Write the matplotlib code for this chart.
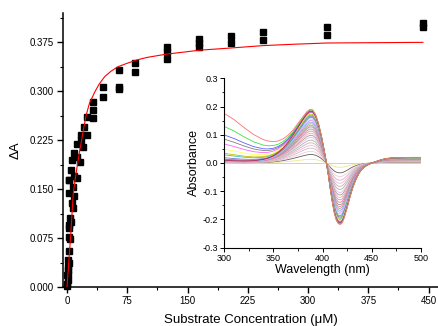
import matplotlib
matplotlib.use("Agg")
import matplotlib.pyplot as plt
from matplotlib.ticker import MultipleLocator, FormatStrFormatter

plt.rcParams['font.family'] = ['Liberation Sans', 'DejaVu Sans']

# ---- main titration data (substrate uM, delta A) ----
conc = [0.3, 0.5, 0.5, 1.0, 1.0, 1.5, 1.0, 2.0, 1.0, 2.5, 3.5, 3.0, 2.5, 2.0, 5.0, 4.0,
        7.0, 6.0, 8.7, 2.9, 2.9, 7.0, 2.9, 12.8, 8.7, 4.6, 16.2, 6.6, 12.8, 8.7,
        20.3, 12.8, 17.0, 17.0, 24.5, 21.0, 24.5, 32.7, 32.7, 32.7, 44.4, 44.4,
        65.0, 65.0, 65.0, 84.6, 84.6, 124.0, 124.0, 124.0, 164.0, 164.0, 164.0,
        204.0, 204.0, 244.0, 244.0, 323.0, 323.0, 443.0, 443.0]
dA = [0.002, 0.005, 0.018, 0.011, 0.026, 0.020, 0.030, 0.037, 0.041, 0.055, 0.074, 0.077,
      0.090, 0.095, 0.100, 0.106, 0.121, 0.129, 0.140, 0.144, 0.164, 0.154, 0.164, 0.167,
      0.170, 0.179, 0.192, 0.194, 0.199, 0.205, 0.215, 0.219, 0.225, 0.233, 0.233,
      0.245, 0.260, 0.259, 0.271, 0.283, 0.291, 0.306, 0.303, 0.307, 0.333, 0.330,
      0.343, 0.349, 0.360, 0.368, 0.368, 0.374, 0.380, 0.374, 0.385, 0.379, 0.391,
      0.386, 0.398, 0.398, 0.405]

# ---- fitted curve ----
fit_conc = [0, 4.35, 7.8, 10.5, 12.9, 15.5, 18.2, 21.0, 23.6, 28.0, 34.8, 40.0, 47.0,
            55.0, 63.8, 75.0, 86.7, 100.0, 124.0, 145.0, 165.0, 200.0, 244.0, 280.0,
            323.0, 380.0, 443.0]
fit_dA = [0.0, 0.075, 0.1437, 0.168, 0.1871, 0.207, 0.2255, 0.245, 0.2623, 0.282,
          0.2995, 0.311, 0.3226, 0.331, 0.3379, 0.343, 0.348, 0.352, 0.357, 0.360,
          0.363, 0.366, 0.370, 0.372, 0.374, 0.3745, 0.375]

# ---- inset difference spectra ----
wavelength = [300, 310, 320, 330, 340, 345, 350, 355, 360, 365, 370, 375, 380, 384, 387,
              390, 393, 396, 399, 402, 404, 406, 408, 410, 412, 414, 416, 418, 420, 422,
              425, 428, 431, 434, 437, 440, 445, 450, 455, 460, 465, 470, 480, 490, 500]
diff_shape = [0.010, 0.008, 0.007, 0.008, 0.013, 0.018, 0.026, 0.038, 0.054, 0.075,
              0.100, 0.128, 0.157, 0.178, 0.188, 0.187, 0.172, 0.140, 0.095, 0.040,
              0.000, -0.045, -0.095, -0.140, -0.178, -0.203, -0.215, -0.218, -0.212,
              -0.195, -0.160, -0.120, -0.085, -0.058, -0.037, -0.022, -0.008, 0.000,
              0.006, 0.012, 0.016, 0.018, 0.019, 0.020, 0.020]
tail_shape = [1.0, 0.88, 0.72, 0.56, 0.42, 0.36, 0.30, 0.24, 0.19, 0.14, 0.10, 0.07,
              0.04, 0.02, 0.01, 0.01, 0.0, 0.0, 0.0, 0.0, 0.0, 0.0, 0.0, 0.0, 0.0, 0.0,
              0.0, 0.0, 0.0, 0.0, 0.0, 0.0, 0.0, 0.0, 0.0, 0.0, 0.0, 0.0, 0.0, 0.0, 0.0,
              0.0, 0.0, 0.0, 0.0]
amps = [0.0, 0.07, 0.16, 0.22, 0.28, 0.33, 0.38, 0.43, 0.48, 0.52, 0.56, 0.60, 0.64,
        0.68, 0.71, 0.74, 0.77, 0.80, 0.83, 0.86, 0.88, 0.90, 0.92, 0.94, 0.95, 0.96,
        0.97, 0.98, 0.99, 1.00]
tails = [0.0, 0.0, 0.0, 0.0, 0.0, 0.005, 0.0, 0.005, 0.0, 0.005, 0.0, 0.005, 0.0,
         0.005, 0.0, 0.005, 0.0, 0.005, 0.0, 0.005, 0.01, 0.02, 0.025, 0.04, 0.058,
         0.075, 0.09, 0.0, 0.12, 0.166]
colors = ['#a8d8d0', '#f0e890', '#606060', '#f8c8d8', '#c0c0c0', '#ffb0e0', '#d0b0b0',
          '#b0b0b0', '#e0c0e0', '#a0a0a0', '#ffa0c0', '#c8a0a0', '#d080a0', '#909090',
          '#ff80a0', '#80c080', '#a0a0ff', '#ff80ff', '#80e0ff', '#a08080', '#8080c0',
          '#40c0c0', '#c0c000', '#ffff60', '#ff60ff', '#808080', '#6060ff', '#c02050',
          '#40e040', '#ff7070']

fig = plt.figure(figsize=(4.39, 3.26), dpi=100)

# main axes
ax = fig.add_axes([63 / 439, 39 / 326, 376 / 439, 274 / 326])
ax.plot(conc, dA, linestyle='none', marker='s', ms=4.5, color='black', mec='black',
        zorder=3, clip_on=False)
ax.plot(fit_conc, fit_dA, color='#ff0000', lw=0.8, zorder=4)
ax.set_xlim(-5, 463)
ax.set_ylim(0, 0.42)
ax.spines['top'].set_visible(False)
ax.spines['right'].set_visible(False)
for s in ('left', 'bottom'):
    ax.spines[s].set_linewidth(1.1)
ax.xaxis.set_major_locator(MultipleLocator(75))
ax.xaxis.set_minor_locator(MultipleLocator(37.5))
ax.yaxis.set_major_locator(MultipleLocator(0.075))
ax.yaxis.set_minor_locator(MultipleLocator(0.0375))
ax.yaxis.set_major_formatter(FormatStrFormatter('%.3f'))
ax.tick_params(which='major', direction='out', length=4.5, width=1.0, labelsize=7, pad=2)
ax.tick_params(which='minor', direction='out', length=2.5, width=0.8)
ax.set_xlabel('Substrate Concentration (\u03bcM)', fontsize=9.5, labelpad=5.5)
ax.set_ylabel('\u0394A', fontsize=9.5, labelpad=6)

# inset axes
ins = fig.add_axes([224 / 439, 78.3 / 326, 197 / 439, 169.4 / 326])
for a, t, c in zip(amps, tails, colors):
    y = [a * d + t * s for d, s in zip(diff_shape, tail_shape)]
    ins.plot(wavelength, y, color=c, lw=0.6)
ins.set_xlim(300, 500)
ins.set_ylim(-0.3, 0.3)
ins.patch.set_alpha(0)
ins.spines['top'].set_visible(False)
ins.spines['right'].set_visible(False)
for s in ('left', 'bottom'):
    ins.spines[s].set_linewidth(0.8)
ins.xaxis.set_major_locator(MultipleLocator(50))
ins.xaxis.set_minor_locator(MultipleLocator(25))
ins.yaxis.set_major_locator(MultipleLocator(0.1))
ins.yaxis.set_minor_locator(MultipleLocator(0.05))
ins.yaxis.set_major_formatter(FormatStrFormatter('%.1f'))
ins.tick_params(which='major', direction='out', length=3, width=0.7, labelsize=6.5, pad=1.5)
ins.tick_params(which='minor', direction='out', length=1.8, width=0.6)
ins.set_xlabel('Wavelength (nm)', fontsize=9, labelpad=1)
ins.set_ylabel('Absorbance', fontsize=9, labelpad=2)

fig.savefig('out.png', dpi=100)
